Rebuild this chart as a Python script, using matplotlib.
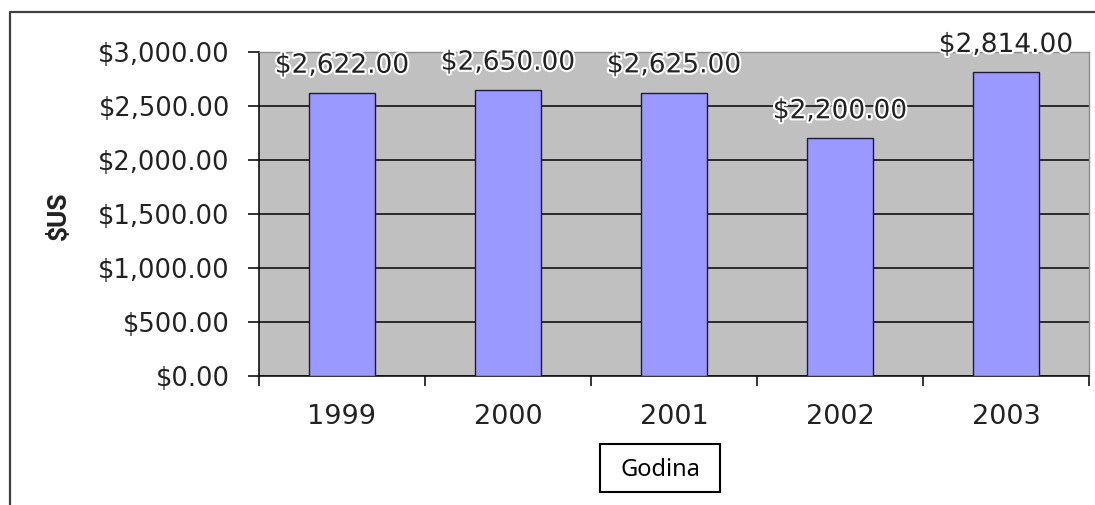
import matplotlib
matplotlib.use('Agg')
import matplotlib.pyplot as plt
import matplotlib.patheffects as pe
from matplotlib.lines import Line2D
from matplotlib.patches import Rectangle
from matplotlib.ticker import FixedLocator, FuncFormatter
import numpy as np

# Data
years = ['1999', '2000', '2001', '2002', '2003']
values = [2622, 2650, 2625, 2200, 2814]
y_ticks = [0, 500, 1000, 1500, 2000, 2500, 3000]

W, H = 1095, 505
plt.rcParams['font.family'] = ['DejaVu Sans']
text_color = '#222222'

fig = plt.figure(figsize=(W / 100, H / 100), dpi=100)
fig.patch.set_facecolor('white')

# Plot area placed in pixels of the reference
ax = fig.add_axes([259 / W, 1 - 376 / H, 830 / W, 324 / H])
ax.set_facecolor('#c0c0c0')

x = np.arange(len(years))
ax.bar(x, values, width=0.4, color='#9999ff', edgecolor='#1a1a3a',
       linewidth=1.0, zorder=3)

ax.set_xlim(-0.5, len(years) - 0.5)
ax.set_ylim(0, 3000)

# horizontal gridlines
ax.yaxis.set_major_locator(FixedLocator(y_ticks))
ax.yaxis.set_major_formatter(FuncFormatter(lambda v, p: f'${v:,.2f}'))
ax.grid(axis='y', color='#111111', linewidth=1.2, zorder=1)
ax.set_axisbelow(True)

# x ticks at category boundaries, labels at centres
ax.xaxis.set_major_locator(FixedLocator(np.arange(len(years) + 1) - 0.5))
ax.xaxis.set_major_formatter(FuncFormatter(lambda v, p: ''))
ax.xaxis.set_minor_locator(FixedLocator(x))
ax.set_xticklabels(years, minor=True)
ax.tick_params(axis='x', which='major', direction='out', length=7,
               width=1.2, color='#111111')
ax.tick_params(axis='x', which='minor', length=0, pad=20,
               labelsize=19.5, labelcolor=text_color)
ax.tick_params(axis='y', direction='out', length=8, width=1.2,
               color='#111111', pad=13, labelsize=18.5, labelcolor=text_color)

for side in ['left', 'bottom']:
    ax.spines[side].set_color('#111111')
    ax.spines[side].set_linewidth(1.2)
for side in ['top', 'right']:
    ax.spines[side].set_color('#8c8c8c')
    ax.spines[side].set_linewidth(1.0)

# value labels with white halo
for xi, v in zip(x, values):
    ax.annotate(f'${v:,.2f}', (xi, v), xytext=(0, 19.5), textcoords='offset points',
                ha='center', va='center', fontsize=19, color=text_color,
                path_effects=[pe.withStroke(linewidth=3, foreground='white')],
                zorder=5, annotation_clip=False)

fig.text(59 / W, 1 - 216 / H, '$US', rotation=90, ha='center', va='center',
         fontsize=19, fontweight='bold', color=text_color,
         family=['Roboto', 'DejaVu Sans'])

# outer chart frame (cut off at the bottom and right of the picture)
fig.add_artist(Line2D([10 / W, 10 / W, 1.0], [0.0, 1 - 12 / H, 1 - 12 / H],
                      transform=fig.transFigure, color='#404040', linewidth=1.6))

# "Godina" box
fig.add_artist(Rectangle((600 / W, 1 - 492 / H), 120 / W, 48 / H,
                         transform=fig.transFigure, facecolor='white',
                         edgecolor='black', linewidth=1.5))
fig.text(660 / W, 1 - 470 / H, 'Godina', ha='center', va='center',
         fontsize=17, family=['Noto Sans', 'DejaVu Sans'], color='black')

fig.savefig('out.png', dpi=100)
